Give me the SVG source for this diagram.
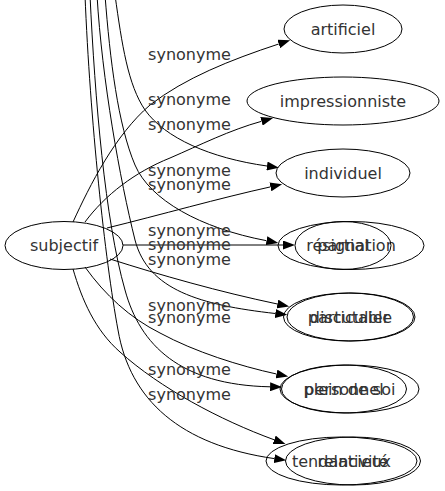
<svg xmlns="http://www.w3.org/2000/svg" width="445" height="491" viewBox="0 0 445 491">
<style>
.n ellipse{fill:none;stroke:#000;stroke-width:1}
text{font-family:"DejaVu Sans","Liberation Sans",sans-serif;font-size:16px;fill:#333;text-anchor:middle}
.e path{fill:none;stroke:#000;stroke-width:1}
</style>
<defs>
<marker id="a" markerWidth="12" markerHeight="9" refX="0" refY="4.5" orient="auto" markerUnits="userSpaceOnUse"><path d="M0,0 L12,4.5 L0,9 z" fill="#000"/></marker>
</defs>
<rect width="445" height="491" fill="#fff"/>
<g class="e" id="edges">
<path marker-end="url(#a)" d="M73,222 C90,185 115,135 150,105 C185,78 230,60 278.7,44"/>
<path marker-end="url(#a)" d="M85,222 C105,195 135,172 170,158 C200,145 230,130 261.5,121.3"/>
<path marker-end="url(#a)" d="M107,228 C160,215 220,198 270.4,186.9"/>
<path marker-end="url(#a)" d="M123,245 L283,245"/>
<path marker-end="url(#a)" d="M110,259 C160,275 220,292 277.4,304"/>
<path marker-end="url(#a)" d="M85,267 C105,295 130,318 160,333 C195,352 240,366 276.5,374"/>
<path marker-end="url(#a)" d="M73,269 C82,300 95,330 120,352 C160,388 220,420 274.2,439.8"/>
<path marker-end="url(#a)" d="M115,-5 C122,45 128,85 145,110 C165,138 210,158 267,166"/>
<path marker-end="url(#a)" d="M105,-5 C110,60 118,125 135,165 C150,200 200,228 266.5,240.7"/>
<path marker-end="url(#a)" d="M97,-5 C102,80 120,180 135,240 C148,290 200,305 275.3,313.5"/>
<path marker-end="url(#a)" d="M90,-5 C95,100 105,220 125,290 C140,345 180,385 270.1,386.8"/>
<path marker-end="url(#a)" d="M85,-5 C90,120 105,260 118,330 C130,400 180,445 274.3,458.6"/>
</g>
<g id="labels">
<text x="189.5" y="59.6">synonyme</text>
<text x="189.5" y="104.6">synonyme</text>
<text x="189.5" y="129.6">synonyme</text>
<text x="189.5" y="176.3">synonyme</text>
<text x="189.5" y="189.6">synonyme</text>
<text x="189.5" y="236.3">synonyme</text>
<text x="189.5" y="249.6">synonyme</text>
<text x="189.5" y="264.6">synonyme</text>
<text x="189.5" y="311.3">synonyme</text>
<text x="189.5" y="323">synonyme</text>
<text x="189.5" y="374.6">synonyme</text>
<text x="189.5" y="399.6">synonyme</text>
</g>
<g class="n" id="subjectif"><ellipse cx="64" cy="245.5" rx="59" ry="24"/><text x="64" y="251">subjectif</text></g>
<g class="n" id="artificiel"><ellipse cx="343" cy="29" rx="59" ry="24"/><text x="343" y="34.5">artificiel</text></g>
<g class="n" id="impressionniste"><ellipse cx="343" cy="101" rx="96" ry="24"/><text x="343" y="106.5">impressionniste</text></g>
<g class="n" id="individuel"><ellipse cx="343" cy="173" rx="67" ry="24"/><text x="343" y="178.5">individuel</text></g>
<g class="n" id="resignation"><ellipse cx="351" cy="245.5" rx="73" ry="24"/><text x="351" y="251">résignation</text></g>
<g class="n" id="partial"><ellipse cx="343" cy="245.5" rx="48" ry="24"/><text x="343" y="251">partial</text></g>
<g class="n" id="particulier"><ellipse cx="348.5" cy="317" rx="65" ry="24"/><text x="348.5" y="322.5">particulier</text></g>
<g class="n" id="discutable"><ellipse cx="351" cy="317" rx="64" ry="24"/><text x="351" y="322.5">discutable</text></g>
<g class="n" id="plein-de-soi"><ellipse cx="349.5" cy="389" rx="69.5" ry="24"/><text x="349.5" y="394.5">plein de soi</text></g>
<g class="n" id="personnel"><ellipse cx="344" cy="389" rx="62.5" ry="24"/><text x="344" y="394.5">personnel</text></g>
<g class="n" id="tendancieux"><ellipse cx="341.5" cy="461" rx="75.5" ry="24"/><text x="341.5" y="466.5">tendancieux</text></g>
<g class="n" id="relativite"><ellipse cx="353" cy="461" rx="67.5" ry="24"/><text x="353" y="466.5">relativité</text></g>
</svg>
